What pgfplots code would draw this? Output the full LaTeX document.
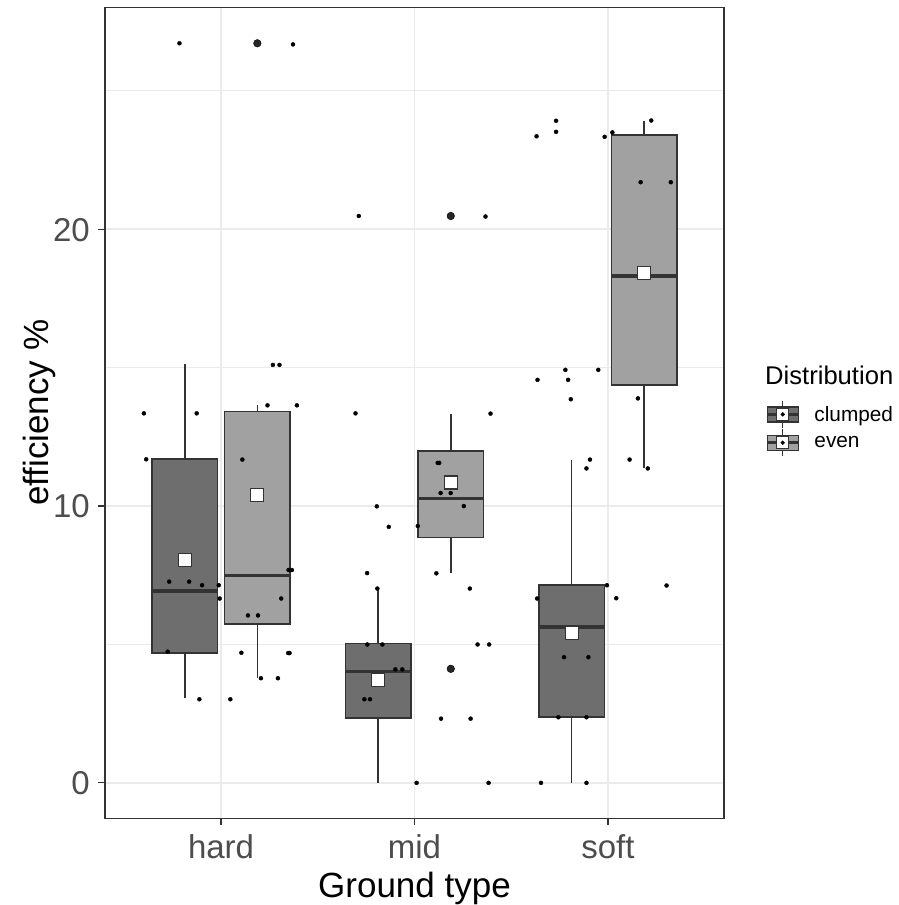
\documentclass[border=0pt]{standalone}
\usepackage{fontspec}
\setmainfont{Liberation Sans}
\usepackage{pgfplots}
\pgfplotsset{compat=1.18}
\usepgfplotslibrary{statistics}
\definecolor{clumpedc}{RGB}{110,110,110}
\definecolor{evenc}{RGB}{161,161,161}
\definecolor{gridc}{RGB}{235,235,235}
\definecolor{g20}{RGB}{51,51,51}
\definecolor{g30}{RGB}{77,77,77}

\pgfplotstableread{
x y
0.785 26.72
1.372 26.68
1.712 20.48
2.367 20.46
1.268 15.10
1.302 15.10
1.240 13.64
1.392 13.64
0.601 13.35
0.874 13.35
1.695 13.35
2.393 13.34
0.613 11.69
1.110 11.68
2.120 11.56
2.128 11.56
2.135 10.47
2.187 10.47
2.255 10.00
1.805 9.99
1.867 9.25
2.017 9.28
1.755 7.58
2.113 7.57
1.349 7.69
1.366 7.69
0.732 7.27
0.835 7.27
0.902 7.14
0.988 7.14
0.993 6.66
1.311 6.66
1.139 6.05
1.191 6.05
1.808 7.02
2.286 7.02
0.724 4.74
1.105 4.70
1.347 4.69
1.354 4.69
1.206 3.78
1.294 3.78
0.888 3.02
1.048 3.02
1.756 5.00
1.834 5.00
2.326 5.00
2.386 5.00
1.901 4.10
1.937 4.10
1.741 3.02
1.770 3.02
2.137 2.32
2.290 2.32
2.011 0.00
2.383 0.00
2.732 23.92
2.732 23.52
2.631 23.36
2.983 23.34
3.023 23.50
3.224 23.93
3.169 21.70
3.325 21.70
2.780 14.92
2.950 14.92
2.636 14.56
2.794 14.56
2.808 13.86
3.155 13.89
2.907 11.68
2.889 11.36
3.112 11.68
3.206 11.36
2.995 7.14
3.303 7.13
2.634 6.66
3.043 6.67
2.773 4.54
2.899 4.54
2.744 2.37
2.889 2.37
2.654 0.00
2.889 0.00
}\jitter

\pgfplotstableread{
x y
1.1875 26.72
2.1875 20.48
2.1875 4.12
}\outl

\pgfplotstableread{
x y
0.8125 8.06
1.8125 3.73
2.8125 5.40
1.1875 10.40
2.1875 10.85
3.1875 18.41
}\means

\begin{document}
\begin{tikzpicture}
\useasboundingbox (0pt,0pt) rectangle (899pt,905pt);
\begin{axis}[
  at={(105pt,86.7pt)}, anchor=south west,
  scale only axis, width=619pt, height=811pt,
  xmin=0.4, xmax=3.6, ymin=-1.28, ymax=28.02,
  axis line style={g20, line width=1.4pt},
  xtick={1,2,3}, xticklabels={hard,mid,soft},
  ytick={0,10,20}, minor ytick={5,15,25},
  xtick pos=bottom, ytick pos=left,
  grid=both,
  major grid style={gridc, line width=1.6pt},
  minor grid style={gridc, line width=0.8pt},
  tick align=outside, major tick length=7pt, minor tick length=0pt,
  tick style={g20, line width=1.2pt},
  ticklabel style={font=\fontsize{33}{36}\selectfont, text=g30, inner sep=0pt},
  xticklabel style={text height=24pt, text depth=0pt, anchor=north, yshift=-8.7pt},
  yticklabel style={anchor=east, text height=23.6pt, text depth=0pt, xshift=-8pt},
  /pgf/number format/assume math mode=true,
  xlabel={Ground type},
  xlabel style={font=\fontsize{35}{40}\selectfont, text=black, anchor=base, at={(axis description cs:0.5,0)}, yshift=-78.7pt, inner sep=0pt},
  ylabel={efficiency \%},
  ylabel style={font=\fontsize{35}{40}\selectfont, text=black, anchor=base, at={(axis description cs:-0.0905,0.5)}, inner sep=0pt},
  legend style={at={(axis description cs:1.0679,0.4806)}, anchor=west, draw=none, fill=none,
    inner sep=0pt, outer sep=0pt, row sep=0pt,
    font=\fontsize{20.8}{24}\selectfont,
    nodes={inner sep=0pt},
    /tikz/every odd column/.append style={column sep=15pt}},
  legend cell align=left,
  boxplot/draw direction=y,
  boxplot/box extend=0.3375,
  boxplot/whisker extend=0,
  boxplot/every box/.style={draw=g20, line width=1.6pt},
  boxplot/every whisker/.style={draw=g20, line width=1.6pt},
  boxplot/every median/.style={draw=g20, line width=3.6pt},
]
% boxes: clumped
\addplot+[boxplot prepared={draw position=0.8125, lower whisker=3.05, lower quartile=4.70, median=6.93, upper quartile=11.69, upper whisker=15.12}, fill=clumpedc, draw=g20, line width=1.6pt, mark=none, forget plot] coordinates {};
\addplot+[boxplot prepared={draw position=1.8125, lower whisker=0, lower quartile=2.35, median=4.03, upper quartile=5.03, upper whisker=7.02}, fill=clumpedc, draw=g20, line width=1.6pt, mark=none, forget plot] coordinates {};
\addplot+[boxplot prepared={draw position=2.8125, lower whisker=0, lower quartile=2.39, median=5.63, upper quartile=7.14, upper whisker=11.68}, fill=clumpedc, draw=g20, line width=1.6pt, mark=none, forget plot] coordinates {};
% boxes: even
\addplot+[boxplot prepared={draw position=1.1875, lower whisker=3.80, lower quartile=5.75, median=7.49, upper quartile=13.42, upper whisker=13.64}, fill=evenc, draw=g20, line width=1.6pt, mark=none, forget plot] coordinates {};
\addplot+[boxplot prepared={draw position=2.1875, lower whisker=7.59, lower quartile=8.86, median=10.27, upper quartile=12.00, upper whisker=13.34}, fill=evenc, draw=g20, line width=1.6pt, mark=none, forget plot] coordinates {};
\addplot+[boxplot prepared={draw position=3.1875, lower whisker=11.39, lower quartile=14.37, median=18.32, upper quartile=23.40, upper whisker=23.92}, fill=evenc, draw=g20, line width=1.6pt, mark=none, forget plot] coordinates {};
% outliers
\addplot[only marks, mark=*, mark size=3.8pt, mark options={draw=none, fill=black!85}, forget plot] table[x=x,y=y] {\outl};
% jitter points
\addplot[only marks, mark=*, mark size=2.0pt, mark options={draw=none, fill=black}, forget plot] table[x=x,y=y] {\jitter};
% means
\addplot[only marks, mark=square*, mark size=6.5pt, mark options={draw=g20, fill=white, line width=1.1pt}, forget plot] table[x=x,y=y] {\means};

\addlegendimage{legend image code/.code={
  \draw[g20, line width=1.3pt] (15.5pt,-13.5pt) -- (15.5pt,13.5pt);
  \draw[g20, line width=1.3pt, fill=clumpedc] (0pt,-7.5pt) rectangle (31pt,7.5pt);
  \draw[g20, line width=2.4pt] (0pt,0pt) -- (31pt,0pt);
  \draw[g20, line width=0.9pt, fill=white] (9.5pt,-6pt) rectangle (21.5pt,6pt);
  \fill[black] (15.5pt,0pt) circle (1.9pt);
}}
\addlegendentry{clumped}
\addlegendimage{legend image code/.code={
  \draw[g20, line width=1.3pt] (15.5pt,-13.5pt) -- (15.5pt,13.5pt);
  \draw[g20, line width=1.3pt, fill=evenc] (0pt,-7.5pt) rectangle (31pt,7.5pt);
  \draw[g20, line width=2.4pt] (0pt,0pt) -- (31pt,0pt);
  \draw[g20, line width=0.9pt, fill=white] (9.5pt,-6pt) rectangle (21.5pt,6pt);
  \fill[black] (15.5pt,0pt) circle (1.9pt);
}}
\addlegendentry{even}
\end{axis}
\node[anchor=base west, inner sep=0pt, font=\fontsize{25.6}{30}\selectfont] at (765pt,520pt) {Distribution};
\end{tikzpicture}
\end{document}
